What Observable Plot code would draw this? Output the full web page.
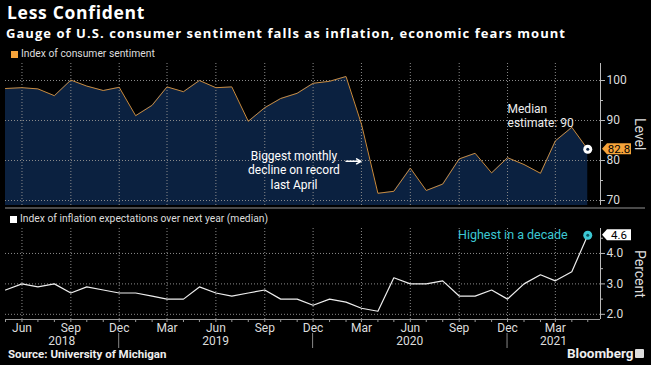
<!DOCTYPE html>
<html><head><meta charset="utf-8">
<script src="https://cdn.jsdelivr.net/npm/d3@7"></script>
<script src="https://cdn.jsdelivr.net/npm/@observablehq/plot@0.6"></script>
<style>
html,body{margin:0;padding:0;background:#000;}
#root{position:relative;width:651px;height:365px;background:#000;overflow:hidden;font-family:Roboto,"Liberation Sans",sans-serif;color:#fff;}
.abs{position:absolute;white-space:nowrap;line-height:1;}
#title{left:7px;top:4px;font-size:17.5px;letter-spacing:0.7px;font-weight:700;font-family:"Open Sans",Roboto,sans-serif;}
#subtitle{left:6px;top:27px;font-size:13px;letter-spacing:1.05px;font-weight:700;font-family:"Open Sans",Roboto,sans-serif;}
.legend{font-size:10.3px;color:#ddd;display:flex;align-items:center;}
.sw{display:inline-block;width:7px;height:7px;margin-right:3px;}
.vlab{writing-mode:vertical-rl;font-size:14px;color:#ddd;}
#source{left:8px;top:349px;font-size:11.5px;font-weight:700;color:#eee;}
#bbg{left:567px;top:347px;font-size:13.5px;font-weight:700;color:#eee;}
#bbgicon{left:635px;top:349px;width:9px;height:9px;background:#ddd;border-radius:1px;}
#sep{left:5px;top:207px;width:640px;height:2px;background:#4a4a4a;}
</style></head>
<body><div id="root">
<div id="title" class="abs">Less Confident</div>
<div id="subtitle" class="abs">Gauge of U.S. consumer sentiment falls as inflation, economic fears mount</div>
<div class="abs legend" style="left:11px;top:49px;"><span class="sw" style="background:#f5a33a"></span>Index of consumer sentiment</div>
<div id="topChart" class="abs" style="left:0;top:60px;"></div>
<div id="sep" class="abs"></div>
<div class="abs legend" style="left:10px;top:214px;"><span class="sw" style="background:#fff"></span>Index of inflation expectations over next year (median)</div>
<div id="botChart" class="abs" style="left:0;top:225px;"></div>
<div class="abs vlab" style="left:633px;top:118px;">Level</div>
<div class="abs vlab" style="left:633px;top:250px;">Percent</div>
<div id="source" class="abs">Source: University of Michigan</div>
<div id="bbg" class="abs">Bloomberg</div>
<div id="bbgicon" class="abs"></div>
</div>
<script>
// ---- data ----
const months = ["2018-05","2018-06","2018-07","2018-08","2018-09","2018-10","2018-11","2018-12",
  "2019-01","2019-02","2019-03","2019-04","2019-05","2019-06","2019-07","2019-08","2019-09","2019-10","2019-11","2019-12",
  "2020-01","2020-02","2020-03","2020-04","2020-05","2020-06","2020-07","2020-08","2020-09","2020-10","2020-11","2020-12",
  "2021-01","2021-02","2021-03","2021-04","2021-05"];
const sentiment = [98.0,98.2,97.9,96.2,100.1,98.6,97.5,98.3,
  91.2,93.8,98.4,97.2,100.0,98.2,98.4,89.8,93.2,95.5,96.8,99.3,
  99.8,101.0,89.1,71.8,72.3,78.1,72.5,74.1,80.4,81.8,76.9,80.7,
  79.0,76.8,84.9,88.3,82.8];
const inflation = [2.8,3.0,2.9,3.0,2.7,2.9,2.8,2.7,
  2.7,2.6,2.5,2.5,2.9,2.7,2.6,2.7,2.8,2.5,2.5,2.3,
  2.5,2.4,2.2,2.1,3.2,3.0,3.0,3.1,2.6,2.6,2.8,2.5,
  3.0,3.3,3.1,3.4,4.6];
const quarterTicks = ["2018-06","2018-09","2018-12","2019-03","2019-06","2019-09","2019-12","2020-03","2020-06","2020-09","2020-12","2021-03"];
const years = ["2018","2019","2020","2021"];
const yearSeparators = ["2018-12","2019-12","2020-12"];
const sentimentTicks = [70,80,90,100];
const sentimentMinor = [75,85,95];
const inflationTicks = [2,3,4];
const inflationMinor = [2.5,3.5,4.5];
const xStart = "2018-05-01", xEnd = "2021-05-25";
const annotDecline = {text:"Biggest monthly\ndecline on record\nlast April", date:"2019-10-26", value:77.75};
const declineArrow = {from:"2020-02-01", to:"2020-02-29", value:79.8};
const annotMedian = {text:"Median\nestimate: 90", date:"2020-12-01", value:91.3};
const annotHigh = "Highest in a decade";

// ---- build ----
const parse = d3.utcParse("%Y-%m");
const pd = d3.utcParse("%Y-%m-%d");
const sData = months.map((m,i)=>({date:parse(m), value:sentiment[i]}));
const iData = months.map((m,i)=>({date:parse(m), value:inflation[i]}));
const qDates = quarterTicks.map(parse);
const mDates = months.map(parse);
const xDomain = [pd(xStart), pd(xEnd)];
const FONT = "Roboto, 'Liberation Sans', sans-serif";
const grid = {stroke:"#8a8a8a", strokeDasharray:"1,2", strokeWidth:1};
const NAVY = "#0b2140", ORANGE = "#c98b3e", TAG = "#f5a33a", CYAN = "#3cc8d4";
const topY = [68.75, 104.25];
const botY = [1.83, 4.82];
const sLast = sData[sData.length-1], iLast = iData[iData.length-1];

const topPlot = Plot.plot({
  width:651, height:150, marginLeft:5, marginRight:51, marginTop:3, marginBottom:5,
  style:{background:"transparent", color:"#ddd", fontFamily:FONT, fontSize:"12px", overflow:"visible"},
  x:{type:"utc", domain:xDomain, axis:null},
  y:{domain:topY, axis:null},
  marks:[
    Plot.areaY(sData, {x:"date", y1:topY[0], y2:"value", fill:NAVY}),
    Plot.ruleY(sentimentTicks, grid),
    Plot.ruleX(qDates, grid),
    Plot.lineY(sData, {x:"date", y:"value", stroke:ORANGE, strokeWidth:1}),
    Plot.ruleX([xDomain[1]], {stroke:"#bbb"}),
    Plot.axisY({anchor:"right", ticks:sentimentTicks, tickSize:4, tickPadding:2, tickFormat:d=>d, label:null, stroke:"#bbb", fill:"#ddd", fontSize:12}),
    Plot.axisY({anchor:"right", ticks:sentimentMinor, tickSize:2, tickFormat:()=>"", label:null, stroke:"#bbb"}),
    Plot.dot([sLast], {x:"date", y:"value", r:4.5, fill:"#fff"}),
    Plot.dot([sLast], {x:"date", y:"value", r:1.5, fill:NAVY}),
    Plot.text([annotDecline], {x:d=>pd(d.date), y:"value", text:"text", fill:"#fff", fontSize:12, lineHeight:1.2, textAnchor:"middle"}),
    Plot.arrow([declineArrow], {x1:d=>pd(d.from), x2:d=>pd(d.to), y1:"value", y2:"value", stroke:"#fff", strokeWidth:1.5, headLength:7}),
    Plot.text([annotMedian], {x:d=>pd(d.date), y:"value", text:"text", fill:"#eee", fontSize:12, lineHeight:1.2, textAnchor:"start"})
  ]
});
document.getElementById("topChart").appendChild(topPlot);

function addTag(svg, last, label, bg) {
  const x = svg.scale("x").apply(xDomain[1]) + 2;
  const y = svg.scale("y").apply(last.value);
  const g = d3.select(svg).append("g");
  const w = 29, h = 11;
  g.append("path").attr("d", `M${x},${y} L${x+5},${y-h/2} L${x+w},${y-h/2} L${x+w},${y+h/2} L${x+5},${y+h/2} Z`).attr("fill", bg);
  g.append("text").attr("x", x+5+(w-5)/2).attr("y", y).attr("dy","0.35em").attr("text-anchor","middle")
    .attr("fill","#000").attr("font-size",11.5).attr("font-family",FONT).text(label);
}
addTag(topPlot, sLast, d3.format(".1f")(sLast.value), TAG);

const botPlot = Plot.plot({
  width:651, height:125, marginLeft:5, marginRight:51, marginTop:3, marginBottom:31,
  style:{background:"transparent", color:"#ddd", fontFamily:FONT, fontSize:"12px", overflow:"visible"},
  x:{type:"utc", domain:xDomain, axis:null},
  y:{domain:botY, axis:null},
  marks:[
    Plot.ruleY(inflationTicks, grid),
    Plot.ruleX(qDates, grid),
    Plot.lineY(iData, {x:"date", y:"value", stroke:"#eee", strokeWidth:1.2}),
    Plot.ruleY([botY[0]], {stroke:"#999"}),
    Plot.axisX({ticks:mDates, tickSize:3, tickFormat:()=>"", label:null, stroke:"#999"}),
    Plot.axisX({ticks:qDates, tickSize:0, tickPadding:4, tickFormat:d3.utcFormat("%b"), label:null, fill:"#ddd", fontSize:12}),
    Plot.ruleX([xDomain[1]], {stroke:"#bbb"}),
    Plot.axisY({anchor:"right", ticks:inflationTicks, tickSize:4, tickPadding:2, tickFormat:d3.format(".1f"), label:null, stroke:"#bbb", fill:"#ddd", fontSize:12}),
    Plot.axisY({anchor:"right", ticks:inflationMinor, tickSize:2, tickFormat:()=>"", label:null, stroke:"#bbb"}),
    Plot.dot([iLast], {x:"date", y:"value", r:4.5, fill:CYAN}),
    Plot.dot([iLast], {x:"date", y:"value", r:1.5, fill:"#0a5560"}),
    Plot.text([iLast], {x:"date", y:"value", text:()=>annotHigh, dx:-20, textAnchor:"end", fill:CYAN, fontSize:12.5})
  ]
});
document.getElementById("botChart").appendChild(botPlot);
addTag(botPlot, iLast, d3.format(".1f")(iLast.value), "#fff");

// year labels and separators below the month labels
{
  const xs = botPlot.scale("x");
  const sepX = yearSeparators.map(s => xs.apply(parse(s)));
  const bounds = [xs.apply(xDomain[0]), ...sepX, xs.apply(xDomain[1])];
  const yAxis = botPlot.scale("y").apply(botY[0]);
  const g = d3.select(botPlot).append("g");
  sepX.forEach(x => g.append("line").attr("x1",x).attr("x2",x).attr("y1",yAxis+14).attr("y2",yAxis+29).attr("stroke","#888"));
  years.forEach((t,i) => g.append("text").attr("x",(bounds[i]+bounds[i+1])/2).attr("y",yAxis+22).attr("dy","0.35em")
    .attr("text-anchor","middle").attr("fill","#ddd").attr("font-size",12).attr("font-family",FONT).text(t));
}
</script>
</body></html>
